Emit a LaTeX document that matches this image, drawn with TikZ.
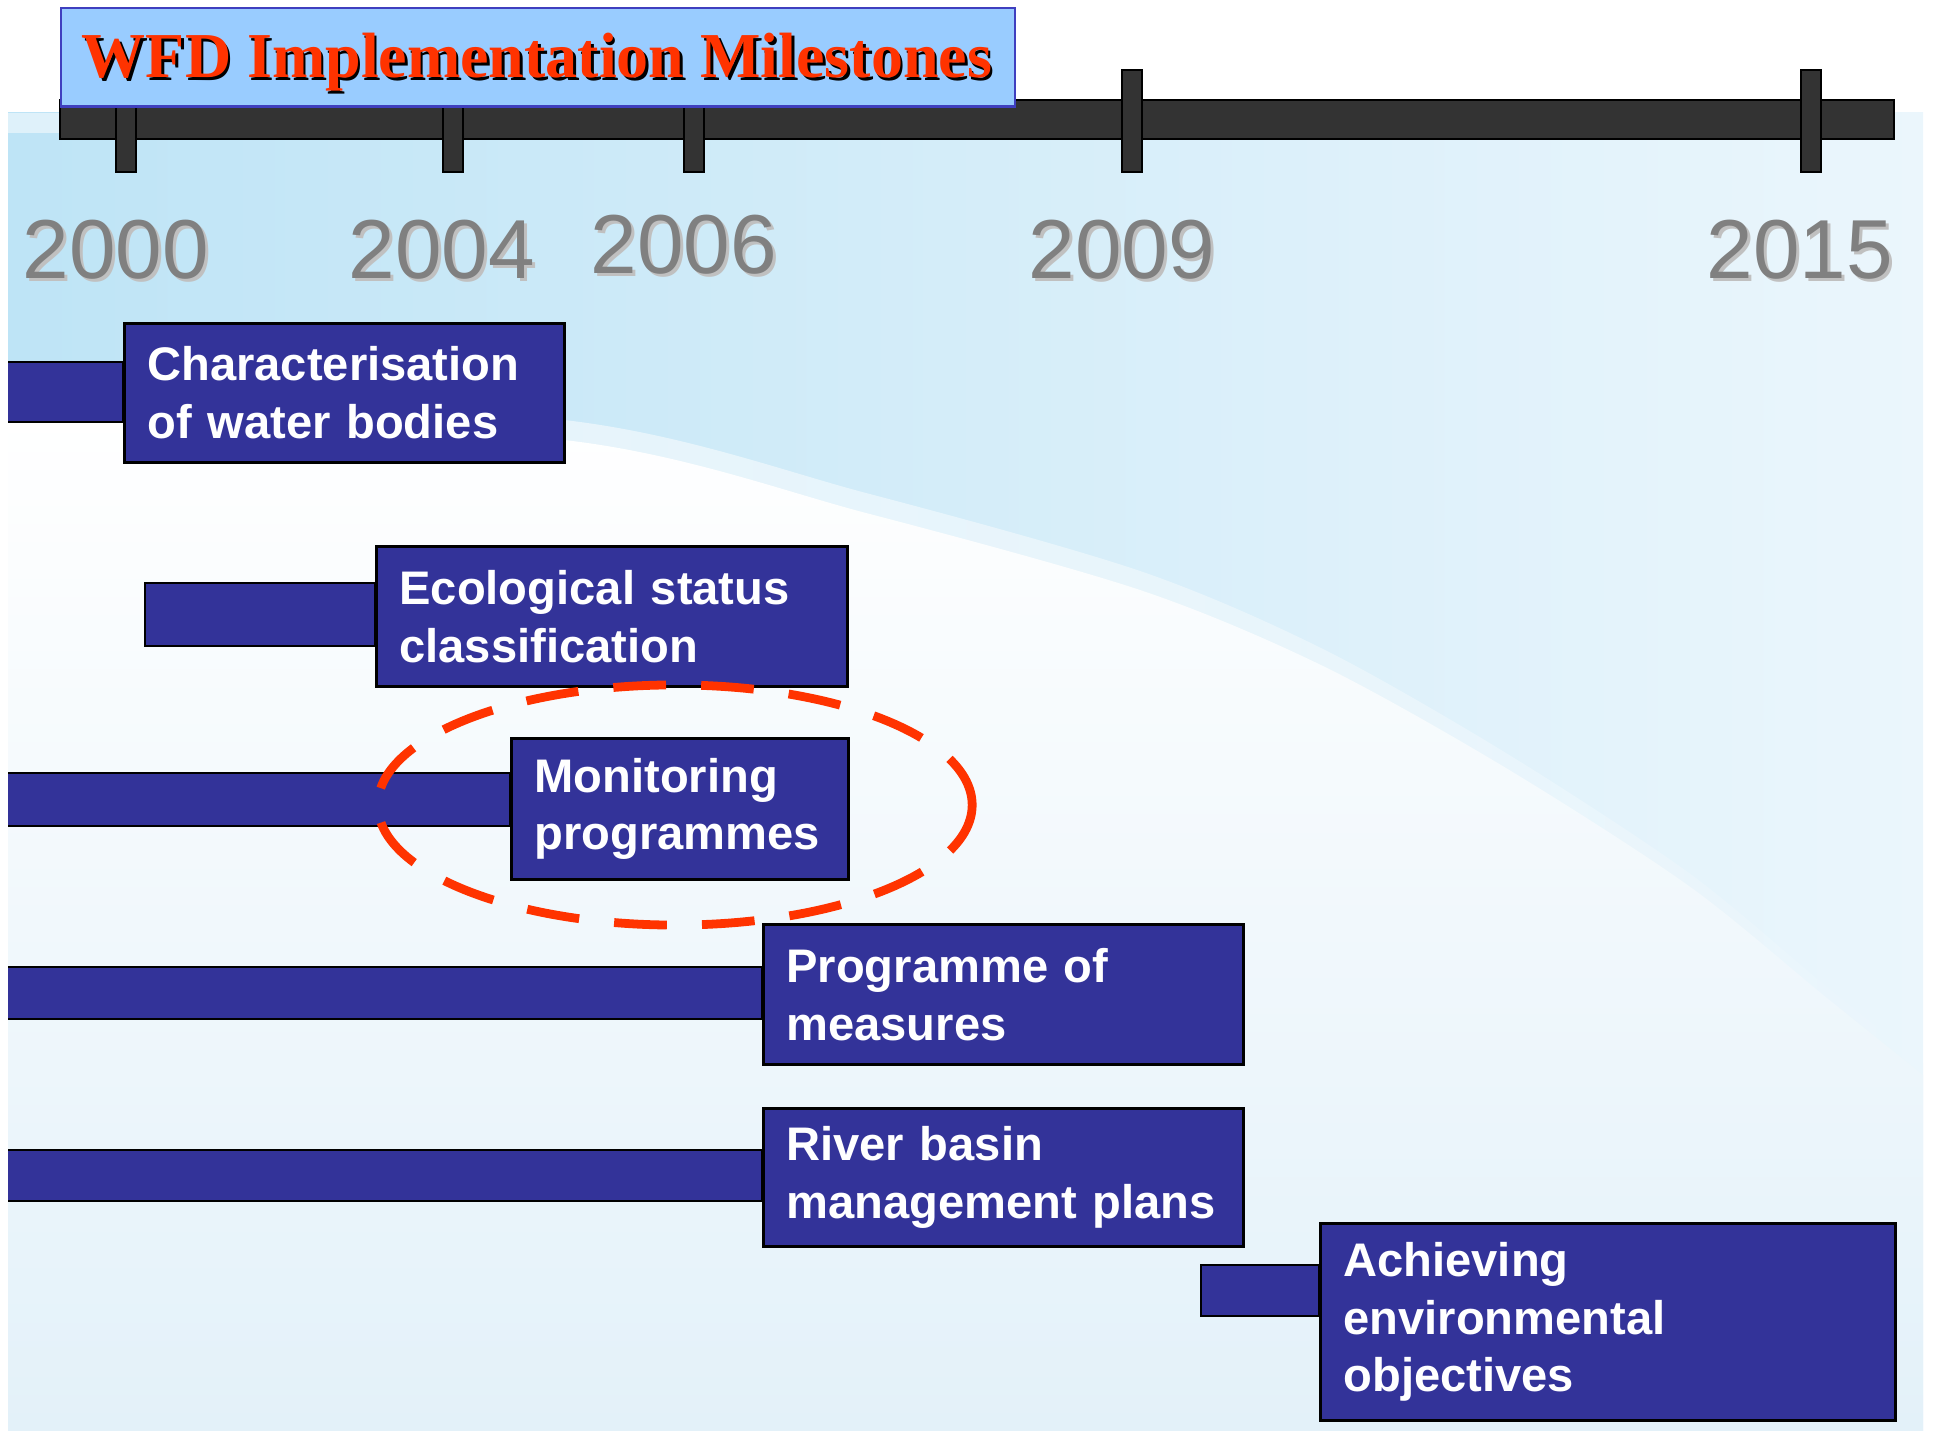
\documentclass[tikz,border=0pt]{standalone}
\usepackage{fontspec}
\newfontfamily\arialfont{Liberation Sans}
\newfontfamily\timesfont{Liberation Serif}
\definecolor{boxblue}{HTML}{333399}
\definecolor{titleblue}{HTML}{99CCFF}
\definecolor{titleline}{HTML}{3F3FBF}
\definecolor{wfdred}{HTML}{FF3300}
\definecolor{barfill}{HTML}{333333}
\definecolor{yeargray}{HTML}{808080}
\definecolor{yearshade}{HTML}{C0C0C0}
\definecolor{bgleft}{HTML}{BEE4F6}
\definecolor{bgright}{HTML}{EBF6FC}
\definecolor{bglow}{HTML}{E3F1F9}
\pgfdeclarelayer{back}
\pgfdeclarelayer{bars}
\pgfsetlayers{back,bars,main}
\tikzset{
  stagebox/.style 2 args={draw=black, line width=0.8pt, fill=boxblue, text=white,
    font=\arialfont\bfseries\fontsize{13.4}{16.4}\selectfont, align=left,
    anchor=north west, inner xsep=0.23cm, inner ysep=0pt,
    text width=#1, minimum height=#2},
  stagebar/.style={draw=black, line width=0.45pt, fill=boxblue},
  yeartick/.style={draw=black, line width=0.5pt, fill=barfill},
  yearlabel/.style={font=\arialfont\fontsize{23.8}{28}\selectfont, text=yeargray,
    anchor=base, inner sep=0pt},
  titletext/.style={font=\timesfont\bfseries\fontsize{18.2}{22}\selectfont, text=wfdred,
    anchor=base, inner sep=0pt},
  focusring/.style={draw=wfdred, line width=2.5pt, dash pattern=on 15pt off 10pt}
}
\begin{document}
\begin{tikzpicture}[x=0.01cm, y=-0.01cm]
\useasboundingbox (0,0) rectangle (1935,1431);
% slide background
\begin{pgfonlayer}{back}
  \shade[left color=bgleft, right color=bgright] (8,113) rectangle (1923,1431);
  \fill[white, opacity=0.5] (8,113) rectangle (62,133);
  \shade[left color=white, right color=bgright, fill opacity=0.6]
    plot[smooth] coordinates {(8,394) (564,420) (866,493) (1140,571) (1323,649)
      (1506,753) (1689,873) (1827,987) (1923,1063)}
    -- (1923,1431) -- (8,1431) -- cycle;
  \shade[top color=white, bottom color=bglow]
    plot[smooth] coordinates {(8,415) (564,440) (866,513) (1140,590) (1323,666)
      (1506,768) (1689,886) (1827,998) (1923,1075)}
    -- (1923,1431) -- (8,1431) -- cycle;
\end{pgfonlayer}
% time line
\draw[yeartick] (60,100) rectangle (1894,139);
\foreach \yr/\tx/\lx/\by in {2000/126/116/279, 2004/453/442/279, 2006/694/684/274,
    2009/1132/1122/279, 2015/1811/1800/279} {
  \draw[yeartick] (\tx-10,70) rectangle (\tx+10,172);
  \node[yearlabel, text=yearshade] (y\yr-sh) at (\lx+3,\by+3) {\yr};
  \node[yearlabel] (y\yr) at (\lx,\by) {\yr};
}
\node[draw=titleline, line width=0.7pt, fill=titleblue, anchor=north west,
  minimum width=9.53cm, minimum height=0.98cm, inner sep=0pt] (title) at (60,7) {};
\node[titletext, text=black] (title-sh) at (539.5,80.5) {WFD Implementation Milestones};
\node[titletext] (title-txt) at (537,78) {WFD Implementation Milestones};
% stages
\node[stagebox={3.94cm}{1.39cm}] (char) at (123,322) {Characterisation\\of water bodies};
\node[stagebox={4.25cm}{1.40cm}] (eco) at (375,545) {Ecological status\\classification};
\node[stagebox={2.91cm}{1.41cm}] (mon) at (510,737) {Monitoring\\programmes};
\node[stagebox={4.34cm}{1.40cm}] (pom) at (762,923) {Programme of\\measures};
\node[stagebox={4.34cm}{1.38cm}] (rbm) at (762,1107) {River basin\\management plans};
\node[stagebox={5.29cm}{1.97cm}] (ach) at (1319,1222) {Achieving\\environmental\\objectives};
\begin{pgfonlayer}{bars}
  \begin{scope}
    \clip (8,0) rectangle (1935,1431);
    \foreach \n/\xs/\yt/\yb in {char/0/362/422, eco/145/583/646, mon/0/773/826,
        pom/0/967/1019, rbm/0/1150/1201, ach/1201/1265/1316} {
      \coordinate (\n-s) at (\xs,\yt);
      \coordinate (\n-e) at (\xs,\yb);
      \draw[stagebar] (\n-s) rectangle (\n.west |- \n-e);
    }
  \end{scope}
\end{pgfonlayer}
\draw[focusring] (675,805) ellipse [x radius=2.97cm, y radius=1.2cm];
\end{tikzpicture}
\end{document}
